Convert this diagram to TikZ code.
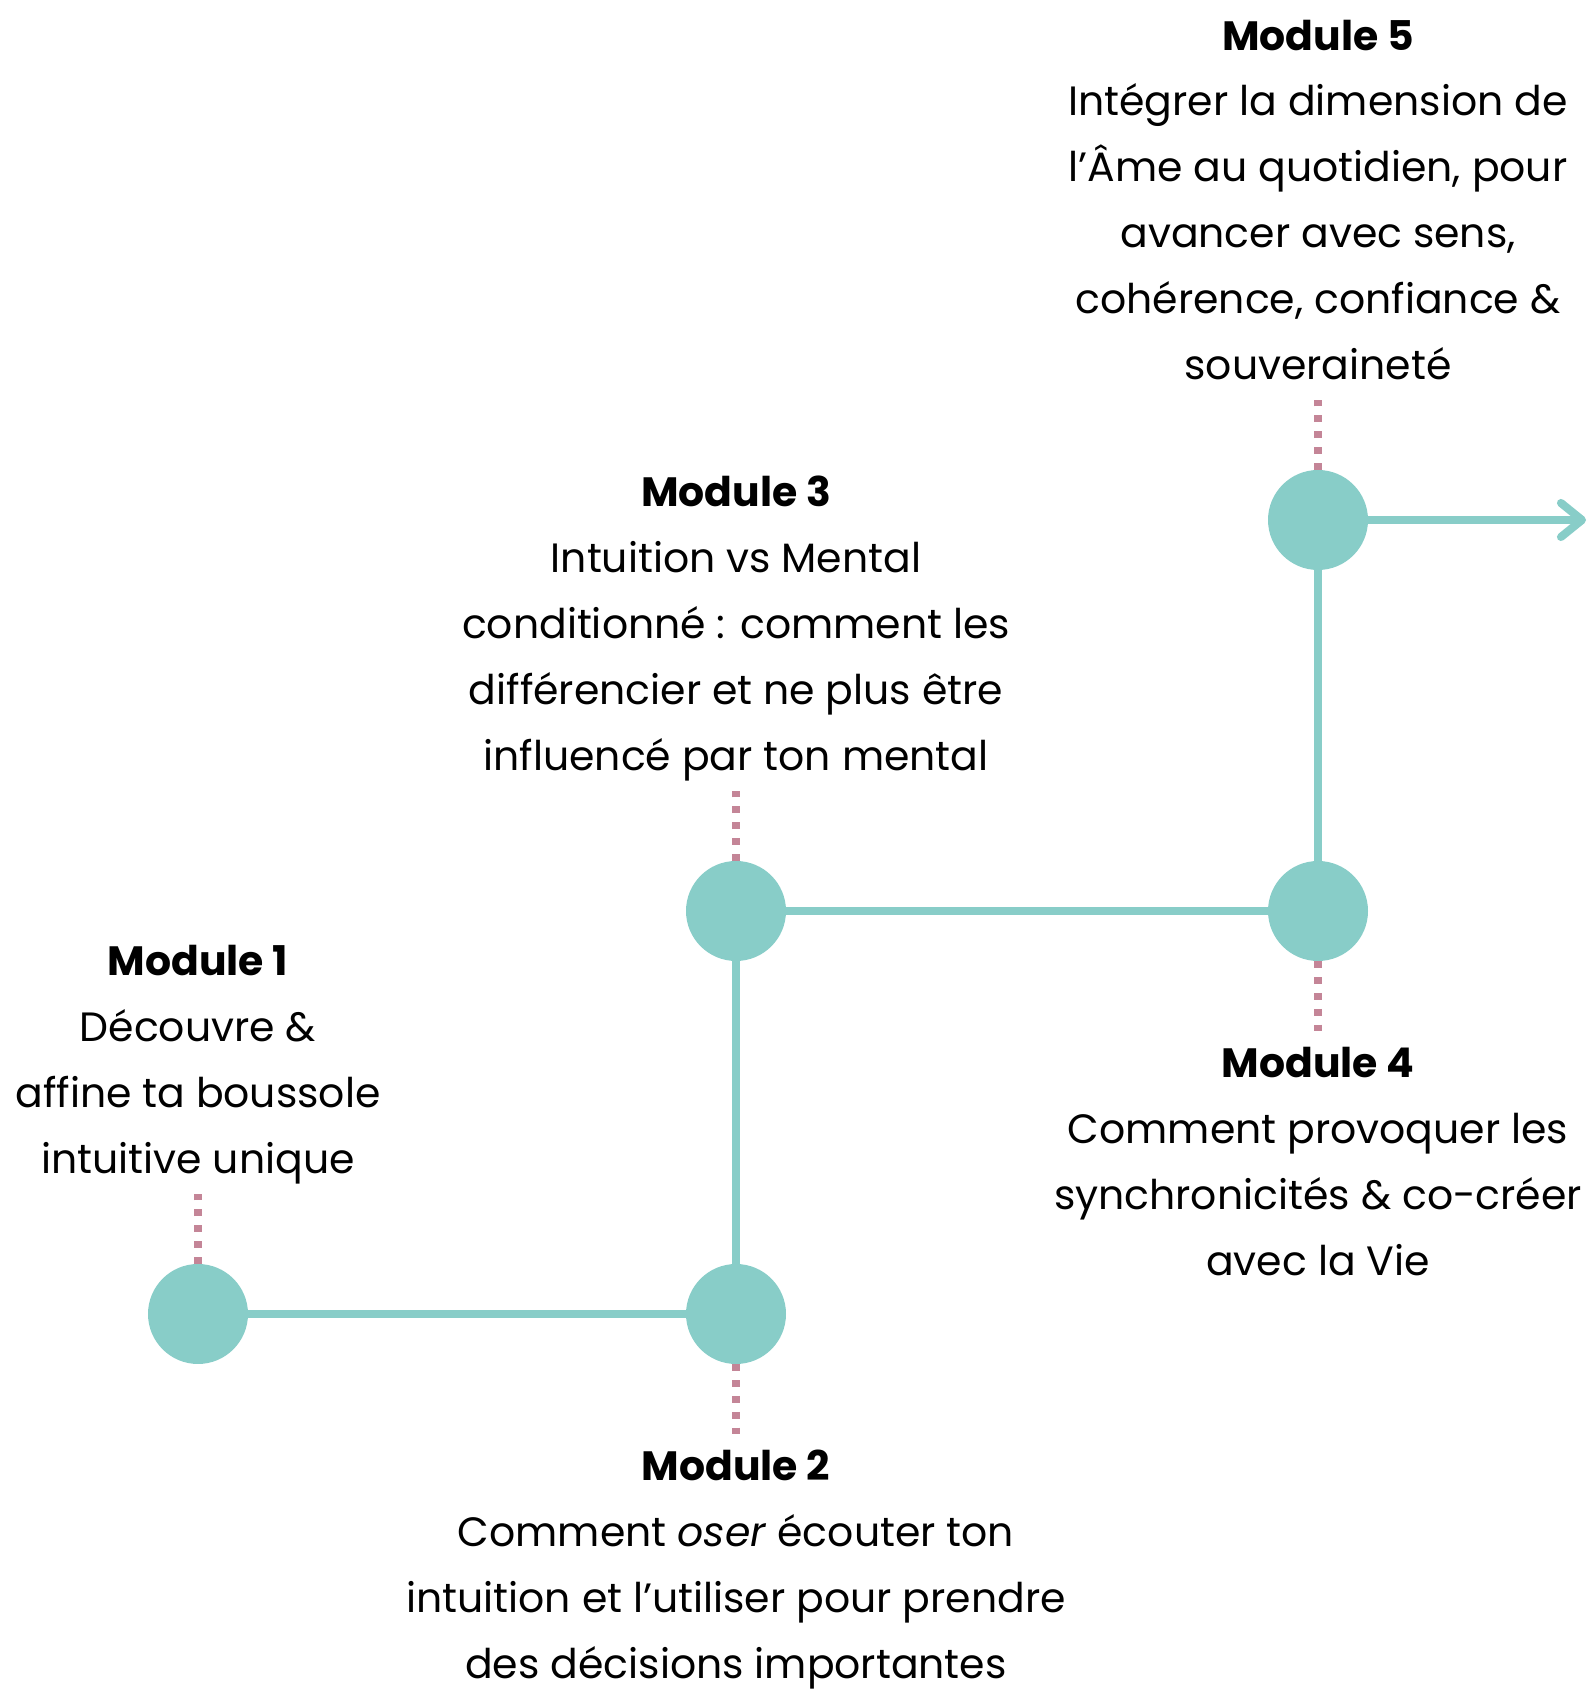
\documentclass[tikz,border=0pt]{standalone}
\usepackage{fontspec}
\setmainfont{Poppins}
\usetikzlibrary{positioning}
\usetikzlibrary{arrows.meta}
\definecolor{turquoise}{HTML}{88CDC8}
\definecolor{vieuxrose}{HTML}{C48597}
\tikzset{
  etape/.style={circle,fill=turquoise,minimum size=2cm,inner sep=0pt},
  texte/.style={align=center,inner sep=0pt,font=\fontsize{23.3}{37.5}\selectfont},
  chemin/.style={draw=turquoise,line width=4.6pt},
  pointille/.style={draw=vieuxrose,line width=4pt,dash pattern=on 4pt off 5pt},
}

\begin{document}
\begin{tikzpicture}[node distance=1.4cm]
  \useasboundingbox (0,0) rectangle (31.78,33.88);
  \node[etape](m1) at (3.96,7.60) {};
  \node[etape](m2) at (14.72,7.60) {};
  \node[etape](m3) at (14.72,15.66) {};
  \node[etape](m4) at (26.36,15.66) {};
  \node[etape](m5) at (26.36,23.48) {};
  \coordinate (fin) at (31.72,23.48);
  \node[texte,above= of m1](t1) {\textbf{Module 1}\\Découvre \&\\affine ta boussole\\intuitive unique\strut};
  \node[texte,below= of m2](t2) {\strut\textbf{Module 2}\\Comment \emph{oser} écouter ton\\intuition et l’utiliser pour prendre\\des décisions importantes};
  \node[texte,above= of m3](t3) {\textbf{Module 3}\\Intuition vs Mental\\conditionné : comment les\\différencier et ne plus être\\influencé par ton mental\strut};
  \node[texte,below= of m4](t4) {\strut\textbf{Module 4}\\Comment provoquer les\\synchronicités \& co-créer\\avec la Vie};
  \node[texte,above= of m5](t5) {\textbf{Module 5}\\Intégrer la dimension de\\l’Âme au quotidien, pour\\avancer avec sens,\\cohérence, confiance \&\\souveraineté\strut};
  \draw[chemin] (m1)--(m2);
  \draw[chemin] (m2)--(m3);
  \draw[chemin] (m3)--(m4);
  \draw[chemin] (m4)--(m5);
  \draw[chemin,-{Straight Barb[length=0.42cm,width=0.68cm,round]}] (m5)--(fin);
  \draw[pointille] (m1)--(t1);
  \draw[pointille] (m2)--(t2);
  \draw[pointille] (m3)--(t3);
  \draw[pointille] (m4)--(t4);
  \draw[pointille] (m5)--(t5);
\end{tikzpicture}
\end{document}
